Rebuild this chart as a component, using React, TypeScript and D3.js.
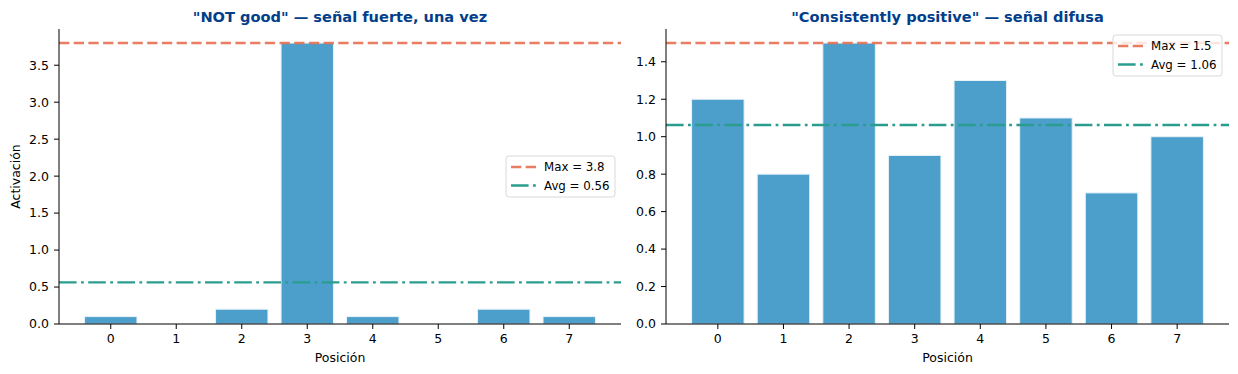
import React from 'react';
import * as d3 from 'd3';

const positions = [0, 1, 2, 3, 4, 5, 6, 7];
const leftValues = [0.1, 0, 0.2, 3.8, 0.1, 0, 0.2, 0.1];
const rightValues = [1.2, 0.8, 1.5, 0.9, 1.3, 1.1, 0.7, 1.0];
const leftTicks = [0, 0.5, 1, 1.5, 2, 2.5, 3, 3.5];
const rightTicks = [0, 0.2, 0.4, 0.6, 0.8, 1.0, 1.2, 1.4];
const leftTitle = '"NOT good" — señal fuerte, una vez';
const rightTitle = '"Consistently positive" — señal difusa';

const W = 1238;
const H = 374;
const FONT = 'DejaVu Sans, sans-serif';
const DASHED = '10.3,4.4';
const DASHDOT = '17.6,4.4,2.8,4.4';

interface PanelProps {
  x0: number;
  x1: number;
  values: number[];
  ticks: number[];
  title: string;
  yLabel?: string;
  legendX: number;
  legendY: number;
}

const Panel: React.FC<PanelProps> = ({ x0, x1, values, ticks, title, yLabel, legendX, legendY }) => {
  const top = 29;
  const bottom = 324;
  const maxV = d3.max(values) ?? 1;
  const avg = d3.mean(values) ?? 0;

  // matplotlib-like auto margins: bars span -0.4..7.4, 5% padding
  const x = d3.scaleLinear().domain([-0.79, 7.79]).range([x0, x1]);
  const y = d3.scaleLinear().domain([0, maxV * 1.05]).range([bottom, top]);
  const bw = x(0.8) - x(0);
  const fmt = d3.format('.1f');

  return (
    <g fontFamily={FONT}>
      {values.map((v, i) => (
        <rect
          key={i}
          x={x(positions[i] - 0.4)}
          y={y(v)}
          width={bw}
          height={Math.max(0, y(0) - y(v))}
          fill="#4c9fcb"
          stroke="#e8f1f7"
          strokeWidth={1}
        />
      ))}
      <line x1={x0} x2={x1} y1={y(maxV)} y2={y(maxV)} stroke="#e76f51" strokeOpacity={0.9} strokeWidth={2.4} strokeDasharray={DASHED} />
      <line x1={x0} x2={x1} y1={y(avg)} y2={y(avg)} stroke="#2a9d8f" strokeWidth={2.4} strokeDasharray={DASHDOT} />

      {/* axes */}
      <line x1={x0} x2={x0} y1={top} y2={bottom} stroke="#000" strokeWidth={1} />
      <line x1={x0} x2={x1} y1={bottom} y2={bottom} stroke="#000" strokeWidth={1} />
      {ticks.map((t) => (
        <g key={t} transform={`translate(${x0},${y(t)})`}>
          <line x1={-5} x2={0} stroke="#000" />
          <text x={-10} dy="0.35em" textAnchor="end" fontSize={12.5} fill="#000">{fmt(t)}</text>
        </g>
      ))}
      {positions.map((p) => (
        <g key={p} transform={`translate(${x(p)},${bottom})`}>
          <line y1={0} y2={5} stroke="#000" />
          <text y={19} textAnchor="middle" fontSize={12.5} fill="#000">{p}</text>
        </g>
      ))}
      <text x={(x0 + x1) / 2} y={362} textAnchor="middle" fontSize={12.5} fill="#000">Posición</text>
      {yLabel && (
        <text transform={`translate(20,${(top + bottom) / 2}) rotate(-90)`} textAnchor="middle" fontSize={12.5} fill="#000">{yLabel}</text>
      )}
      <text x={(x0 + x1) / 2} y={21.5} textAnchor="middle" fontSize={14.6} fontWeight="bold" fill="#023e8a">{title}</text>

      {/* legend */}
      <g transform={`translate(${legendX},${legendY})`}>
        <rect x={0} y={0} width={109} height={41} rx={3} fill="#fff" fillOpacity={0.8} stroke="#d9d9d9" />
        <line x1={5} x2={30} y1={11} y2={11} stroke="#e76f51" strokeOpacity={0.9} strokeWidth={2.4} strokeDasharray={DASHED} />
        <text x={38} y={11} dy="0.35em" fontSize={11.8} fill="#000">{`Max = ${d3.format('.2~f')(maxV)}`}</text>
        <line x1={5} x2={30} y1={29.5} y2={29.5} stroke="#2a9d8f" strokeWidth={2.4} strokeDasharray={DASHDOT} />
        <text x={38} y={29.5} dy="0.35em" fontSize={11.8} fill="#000">{`Avg = ${d3.format('.2f')(avg)}`}</text>
      </g>
    </g>
  );
};

const App: React.FC = () => {
  return (
    <svg width={W} height={H} style={{ position: 'absolute', left: 0, top: 0, background: '#fff' }}>
      <Panel
        x0={59}
        x1={621}
        values={leftValues}
        ticks={leftTicks}
        title={leftTitle}
        yLabel="Activación"
        legendX={506}
        legendY={156}
      />
      <Panel
        x0={666}
        x1={1229}
        values={rightValues}
        ticks={rightTicks}
        title={rightTitle}
        legendX={1113}
        legendY={35}
      />
    </svg>
  );
};

export default App;
